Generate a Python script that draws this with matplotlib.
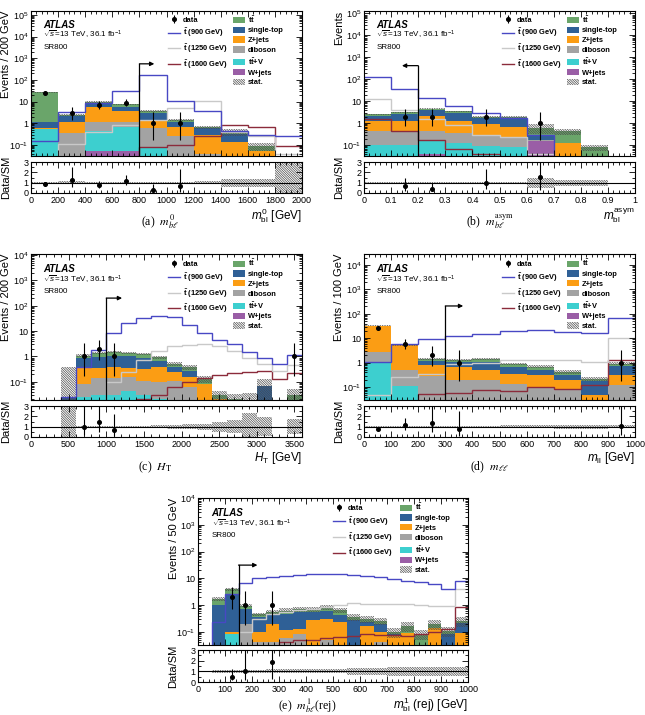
import math
import numpy as np
import matplotlib
matplotlib.use("Agg")
import matplotlib.pyplot as plt
from matplotlib.ticker import FixedLocator, FuncFormatter, AutoMinorLocator, LogLocator, NullFormatter, MultipleLocator
from matplotlib.lines import Line2D
from matplotlib.patches import Patch

plt.rcParams['font.family'] = ['Liberation Sans', 'DejaVu Sans']
plt.rcParams['mathtext.fontset'] = 'custom'
plt.rcParams['mathtext.rm'] = 'Liberation Sans'
plt.rcParams['mathtext.it'] = 'Liberation Sans:italic'
plt.rcParams['mathtext.bf'] = 'Liberation Sans:bold'
plt.rcParams['hatch.linewidth'] = 0.5

# ---------------- data ----------------
# (a) m_bl^0, bins of 200 GeV
edges_a = np.arange(0, 2001, 200)
ttbar_a = [26, 0.15, 0.5, 1.8, 0.9, 0.25, 0.06, 0.08, 0.03, 0.003]
stop_a = [0.6, 1.0, 3.0, 2.0, 1.5, 0.5, 0.3, 0.2, 0.0, 0.0]
zjets_a = [0.02, 0.85, 4.7, 2.6, 0.8, 0.4, 0.25, 0.13, 0.055, 0.0]
dibos_a = [0.02, 0.35, 0.73, 0.5, 0.5, 0.26, 0.04, 0.0, 0.0, 0.0]
ttv_a = [0.55, 0.0, 0.41, 0.65, 0.08, 0.0, 0.0, 0.0, 0.0, 0.0]
wjets_a = [0.0, 0.0, 0.05, 0.05, 0.0, 0.0, 0.0, 0.0, 0.0, 0.0]
data_a = [24, 3, 7, 9, 1, 1, 0, 0, 0, 0]
s900_a = [0.15, 3.2, 9, 30, 160, 11, 3.6, 0.45, 0.3, 0.26]
s1250_a = [0.0, 0.11, 0.41, 0.84, 1.4, 5.3, 11, 0.4, 0.25, 0.04]
s1600_a = [0.0, 0.0, 0.0, 0.0, 0.08, 0.1, 0.26, 0.85, 0.7, 0.09]
stat_a = [0.05, 0.12, 0.1, 0.06, 0.1, 0.1, 0.15, 0.4, 0.4, 5.0]

# (b) m_bl^asym, bins of 0.1
edges_b = np.round(np.arange(0, 1.01, 0.1), 2)
ttbar_b = [0.3, 0.4, 0.6, 0.6, 0.25, 0.2, 0.35, 0.3, 0.08, 0.0]
stop_b = [0.9, 1.4, 1.8, 1.6, 0.8, 1.1, 0.1, 0.0, 0.0, 0.0]
zjets_b = [0.9, 0.9, 1.75, 0.9, 0.7, 0.4, 0.0, 0.13, 0.0, 0.0]
dibos_b = [0.32, 0.3, 0.3, 0.25, 0.16, 0.16, 0.02, 0.0, 0.0, 0.0]
ttv_b = [0.1, 0.1, 0.11, 0.1, 0.07, 0.08, 0.01, 0.0, 0.0, 0.0]
wjets_b = [0.0, 0.0, 0.04, 0.02, 0.02, 0.0, 0.15, 0.0, 0.0, 0.0]
data_b = [0, 2, 2, 0, 2, 0, 1, 0, 0, 0]
s900_b = [130, 36, 14, 6, 2.8, 1.8, 0.3, 0.0, 0.0, 0.0]
s1250_b = [13, 4.2, 1.6, 0.85, 0.28, 0.24, 0.04, 0.0, 0.0, 0.0]
s1600_b = [1.5, 0.45, 0.18, 0.07, 0.04, 0.03, 0.0, 0.0, 0.0, 0.03]
stat_b = [0.08, 0.08, 0.08, 0.08, 0.1, 0.1, 0.5, 0.3, 0.3, 0.0]

# (c) H_T, bins of 200 GeV
edges_c = np.arange(0, 3601, 200)
ttbar_c = [0, 0, 0, 0.2, 0.4, 0.4, 0.35, 0.35, 0.25, 0.12, 0.1, 0.05, 0.01, 0.02, 0.015, 0, 0, 0.025]
stop_c = [0, 0, 0.012, 0.5, 0.65, 0.7, 0.7, 0.55, 0.3, 0.15, 0.12, 0, 0, 0, 0, 0.07, 0, 0.005]
zjets_c = [0, 0, 0.012, 0.3, 0.2, 0.24, 0.18, 0.22, 0.27, 0.13, 0.09, 0.08, 0.02, 0, 0, 0, 0, 0]
dibos_c = [0, 0, 0, 0.055, 0.11, 0.11, 0.11, 0.08, 0.08, 0.11, 0.06, 0, 0, 0, 0, 0, 0, 0]
ttv_c = [0, 0, 0, 0.025, 0.03, 0.03, 0.045, 0.03, 0.02, 0, 0, 0, 0, 0, 0, 0, 0, 0]
wjets_c = [0] * 18
data_c = [0, 0, 0, 1, 2, 1, 0, 0, 0, 0, 0, 0, 0, 0, 0, 0, 0, 1]
s900_c = [0, 0, 0.025, 0.38, 1.8, 8.3, 20, 33, 40, 36, 17, 8.5, 4.5, 3.0, 1.5, 0.9, 0.48, 1.1]
s1250_c = [0, 0, 0, 0, 0, 0.1, 0.25, 0.7, 1.6, 2.5, 2.9, 3.0, 2.5, 1.7, 0.9, 0.5, 0.27, 0.45]
s1600_c = [0, 0, 0, 0, 0, 0, 0, 0.02, 0.03, 0.06, 0.1, 0.14, 0.19, 0.22, 0.24, 0.26, 0.13, 0.22]
stat_c = [0, 0, 15, 0.1, 0.1, 0.1, 0.1, 0.1, 0.15, 0.2, 0.25, 0.3, 0.5, 0.6, 1.3, 0.9, 0, 0.7]

# (d) m_ll, bins of 100 GeV
edges_d = np.arange(0, 1001, 100)
ttbar_d = [0, 0, 0.25, 0.25, 0.35, 0.2, 0.16, 0.12, 0.04, 0.2]
stop_d = [0, 0, 0.4, 0.35, 0.6, 0.33, 0.22, 0.12, 0.13, 0.42]
zjets_d = [30, 4.8, 0.5, 0.5, 0.31, 0.22, 0.21, 0.115, 0.05, 0.19]
dibos_d = [1.8, 0.4, 0.28, 0.19, 0.19, 0.14, 0.1, 0.075, 0, 0.12]
ttv_d = [1.0, 0.11, 0, 0, 0, 0, 0, 0, 0, 0]
wjets_d = [0] * 10
data_d = [26, 6, 2, 1, 0, 0, 0, 0, 0, 1]
s900_d = [1.1, 6.0, 9.5, 13, 15, 19, 21, 18, 16, 65]
s1250_d = [0.05, 0.27, 0.35, 0.85, 0.95, 1.25, 1.35, 1.25, 1.05, 10]
s1600_d = [0, 0, 0.055, 0.06, 0.075, 0.07, 0.1, 0.085, 0.12, 1.25]
stat_d = [0.05, 0.08, 0.08, 0.1, 0.1, 0.12, 0.15, 0.18, 0.2, 0.15]

# (e) m_bl^1 (rej), bins of 50 GeV
edges_e = np.arange(0, 1001, 50)
ttbar_e = [0, 0.7, 1.5, 0.25, 0.1, 0.1, 0.15, 0.15, 0.18, 0.2, 0.2, 0.08, 0.07, 0.06, 0.02, 0.08, 0.08, 0.05, 0.03, 0.04]
stop_e = [0, 1.0, 2.3, 0.5, 0.25, 0.25, 0.35, 0.4, 0.25, 0.3, 0.2, 0.27, 0.07, 0.1, 0.01, 0, 0, 0, 0.08, 0.13]
zjets_e = [0, 0, 0.02, 0, 0.06, 0.15, 0.06, 0.05, 0.25, 0.26, 0.2, 0, 0.14, 0.06, 0.07, 0.09, 0, 0.14, 0, 0.09]
dibos_e = [0, 0, 0, 0.2, 0.04, 0.04, 0.06, 0.08, 0.03, 0.05, 0.03, 0, 0.03, 0.04, 0, 0, 0, 0, 0, 0]
ttv_e = [0, 0, 0.08, 0, 0, 0, 0, 0, 0, 0, 0, 0, 0, 0, 0, 0, 0, 0, 0, 0]
wjets_e = [0] * 20
data_e = [0, 0, 2, 1, 0, 1, 0, 0, 0, 0, 0, 0, 0, 0, 0, 0, 0, 0, 0, 0]
s900_e = [0, 0.24, 2.6, 6.5, 10, 10.9, 12.2, 13.3, 14, 14.5, 14.5, 13.3, 12.2, 10.9, 9.4, 8.2, 7.1, 6.1, 3.9, 7.9]
s1250_e = [0, 0, 0, 0.1, 0.3, 0.45, 0.55, 0.65, 0.72, 0.85, 1.0, 1.2, 1.05, 1.05, 1.1, 1.05, 1.0, 0.95, 0.95, 4.0]
s1600_e = [0, 0, 0, 0, 0.02, 0.03, 0.04, 0.05, 0.05, 0.06, 0.065, 0.07, 0.085, 0.075, 0.075, 0.07, 0.085, 0.1, 0.13, 0.85]
stat_e = [0, 0.15, 0.15, 0.15, 0.15, 0.2, 0.2, 0.2, 0.2, 0.2, 0.2, 0.3, 0.3, 0.3, 0.4, 0.4, 0.4, 0.4, 0.4, 0.4]

# cut arrows: (cut position, arrow height, arrow tip)
cut_a = (800, 550, 910)
cut_b = (0.2, 420, 0.14)
cut_c = (1000, 200, 1210)
cut_d = (300, 210, 366)
cut_e = (150, 31, 220)

bkg_labels = [r'$\mathbf{t\bar{t}}$', 'single-top', 'Z+jets', 'diboson', r'$\mathbf{t\bar{t}}$+V', 'W+jets']
sig_labels = [r'$\mathbf{\tilde{t}}$ (900 GeV)', r'$\mathbf{\tilde{t}}$ (1250 GeV)', r'$\mathbf{\tilde{t}}$ (1600 GeV)']

# ---------------- style ----------------
C_TT = '#6aa56a'
C_ST = '#2f6096'
C_Z = '#fb9d14'
C_DB = '#a3a3a3'
C_TTV = '#3dcfcf'
C_W = '#9a5ea6'
C_900 = '#4848c4'
C_1250 = '#c9c9c9'
C_1600 = '#8b2b3b'
C_HATCH = '#4a4a4a'
HATCH = '\\' * 14

W, H = 645, 715


def rect(l, t, r, b):
    return [l / W, 1 - b / H, (r - l) / W, (b - t) / H]


def pois_cdf(n, mu):
    s, term = 0.0, math.exp(-mu)
    for k in range(n + 1):
        if k > 0:
            term *= mu / k
        s += term
    return s


def garwood(n, a=0.158655):
    if n <= 0:
        return 0.0, 0.0
    lo_a, hi_a = 0.0, float(n)
    for _ in range(80):
        m = 0.5 * (lo_a + hi_a)
        if 1 - pois_cdf(n - 1, m) < a:
            lo_a = m
        else:
            hi_a = m
    lo = 0.5 * (lo_a + hi_a)
    lo_b, hi_b = float(n), n + 10 * math.sqrt(n) + 10
    for _ in range(80):
        m = 0.5 * (lo_b + hi_b)
        if pois_cdf(n, m) > a:
            lo_b = m
        else:
            hi_b = m
    up = 0.5 * (lo_b + hi_b)
    return lo, up


def steps(edges, vals):
    x = np.repeat(edges, 2)[1:-1]
    y = np.repeat(np.asarray(vals, float), 2)
    return x, y


def log_fmt(v, pos):
    e = int(round(math.log10(v)))
    if e == 0:
        return '1'
    if e == 1:
        return '10'
    return r'$10^{%d}$' % e


def draw(spec):
    edges = np.asarray(spec['edges'], float)
    nb = len(edges) - 1
    centers = 0.5 * (edges[1:] + edges[:-1])
    ax = fig.add_axes(rect(*spec['main']))
    axr = fig.add_axes(rect(*spec['ratio']), sharex=ax)
    ax.set_yscale('log')
    floor = 1e-6

    comps = [(spec['wjets'], C_W), (spec['ttv'], C_TTV), (spec['dibos'], C_DB),
             (spec['zjets'], C_Z), (spec['stop'], C_ST), (spec['ttbar'], C_TT)]
    cum = np.zeros(nb)
    for vals, col in comps:
        vals = np.asarray(vals, float)
        upper = cum + vals
        ax.stairs(np.maximum(upper, floor), edges, baseline=np.maximum(cum, floor),
                  fill=True, color=col, lw=0)
        cum = upper
    total = cum
    err = np.asarray(spec['stat'], float)

    # stat band
    x, yt = steps(edges, total)
    _, ye = steps(edges, err)
    m = yt > 0
    ax.fill_between(x, np.maximum(yt * (1 - ye), floor), yt * (1 + ye), where=m,
                    facecolor='none', edgecolor=C_HATCH, hatch=HATCH, lw=0)

    # signals
    for vals, col, lw in [(spec['s1600'], C_1600, 1.0), (spec['s1250'], C_1250, 1.0),
                          (spec['s900'], C_900, 1.0)]:
        vals = np.asarray(vals, float)
        ax.stairs(np.where(vals > 0, vals, 1e-4), edges, color=col, lw=lw, baseline=None)

    # data
    data = np.asarray(spec['data'], int)
    sel = data > 0
    lo = np.array([garwood(n)[0] for n in data])
    up = np.array([garwood(n)[1] for n in data])
    dcont = ax.errorbar(centers[sel], data[sel], yerr=[data[sel] - lo[sel], up[sel] - data[sel]],
                        fmt='o', color='k', ms=2.6, elinewidth=0.8, capsize=0, zorder=5)

    # cut arrow
    cx, ch, ct = spec['cut']
    ax.plot([cx, cx], [spec['ylim'][0], ch], color='k', lw=0.9, zorder=6)
    ax.annotate('', xy=(ct, ch), xytext=(cx, ch),
                arrowprops=dict(arrowstyle='-|>', color='k', lw=0.9, mutation_scale=6,
                                shrinkA=0, shrinkB=0), zorder=6)

    ax.set_xlim(edges[0], edges[-1])
    ax.set_ylim(*spec['ylim'])
    decs = [10.0 ** k for k in range(-1, 6) if spec['ylim'][0] <= 10.0 ** k <= spec['ylim'][1]]
    ax.yaxis.set_major_locator(FixedLocator(decs))
    ax.yaxis.set_major_formatter(FuncFormatter(log_fmt))
    ax.yaxis.set_minor_locator(LogLocator(base=10, subs=np.arange(2, 10), numticks=30))
    ax.yaxis.set_minor_formatter(NullFormatter())
    ax.set_ylabel(spec['ylabel'], fontsize=8, loc='top')
    ax.yaxis.set_label_coords(-0.072, 1.0)

    # ratio
    rb = np.where(total > 0, 1 + err, np.nan)
    rl = np.where(total > 0, 1 - err, np.nan)
    x, yu = steps(edges, np.minimum(rb, 3.5))
    _, yl = steps(edges, np.maximum(rl, -0.5))
    axr.fill_between(x, yl, yu, where=np.isfinite(yu), facecolor='none', edgecolor=C_HATCH,
                     hatch=HATCH, lw=0)
    axr.axhline(1, color='k', lw=0.8)
    rsel = sel & (total > 0)
    axr.errorbar(centers[rsel], data[rsel] / total[rsel],
                 yerr=[(data[rsel] - lo[rsel]) / total[rsel], (up[rsel] - data[rsel]) / total[rsel]],
                 fmt='o', color='k', ms=2.6, elinewidth=0.8, capsize=0, zorder=5)
    axr.set_ylim(0, 3)
    axr.yaxis.set_major_locator(FixedLocator([0, 1, 2, 3]))
    axr.yaxis.set_minor_locator(MultipleLocator(0.5))
    axr.set_ylabel('Data/SM', fontsize=8)
    axr.yaxis.set_label_coords(-0.072, 0.5)
    axr.yaxis.label.set_va('bottom')
    axr.xaxis.set_major_locator(MultipleLocator(spec['xmajor']))
    axr.xaxis.set_minor_locator(AutoMinorLocator(spec['xminor']))
    axr.xaxis.set_major_formatter(FuncFormatter(lambda v, p: '%g' % round(v, 6)))
    axr.set_xlabel(spec['xlabel'], fontsize=8.5, loc='right')
    axr.xaxis.set_label_coords(1.0, -0.43)

    for a in (ax, axr):
        a.tick_params(which='both', direction='in', top=True, right=True, labelsize=6.5, width=0.6)
        a.tick_params(which='major', length=4.5)
        a.tick_params(which='minor', length=2.3)
        for sp in a.spines.values():
            sp.set_linewidth(0.8)
    ax.tick_params(labelbottom=False)
    axr.tick_params(axis='x', pad=2.5)
    axr.tick_params(axis='y', pad=2)
    ax.tick_params(axis='y', pad=2)

    # text
    tx = spec['tx']
    ax.text(tx, spec['ty'][0], 'ATLAS', transform=ax.transAxes, fontsize=7,
            fontweight='bold', fontstyle='italic', va='center')
    ax.text(tx, spec['ty'][1], r'$\sqrt{s}$=13 TeV, 36.1 fb$^{-1}$', transform=ax.transAxes,
            fontsize=5.8, va='center')
    ax.text(tx, spec['ty'][2], 'SR800', transform=ax.transAxes, fontsize=5.8, va='center')

    # legends
    h1 = [dcont] + [Line2D([], [], color=c, lw=1.0) for c in (C_900, C_1250, C_1600)]
    l1 = ['data'] + sig_labels
    leg1 = ax.legend(h1, l1, loc='upper left', bbox_to_anchor=spec['leg1'], frameon=False,
                     prop=dict(size=5.4, weight='bold'), borderpad=0, borderaxespad=0,
                     labelspacing=0.4, handlelength=1.6, handletextpad=0.4, handleheight=0.9)
    ax.add_artist(leg1)
    h2 = [Patch(facecolor=c, lw=0) for c in (C_TT, C_ST, C_Z, C_DB, C_TTV, C_W)]
    h2.append(Patch(facecolor='none', edgecolor=C_HATCH, hatch=HATCH, lw=0))
    l2 = bkg_labels + ['stat.']
    ax.legend(h2, l2, loc='upper left', bbox_to_anchor=spec['leg2'], frameon=False,
              prop=dict(size=5.4, weight='bold'), borderpad=0, borderaxespad=0,
              labelspacing=0.28, handlelength=1.55, handletextpad=0.45, handleheight=0.9)

    cx_, cy_ = spec['caption_xy']
    fig.text(cx_ / W, 1 - cy_ / H, spec['caption'], fontsize=8.5, ha='center', va='center',
             family='Liberation Serif', math_fontfamily='stix')
    return ax, axr


fig = plt.figure(figsize=(6.45, 7.15), dpi=100)

specs = [
    dict(edges=edges_a, ttbar=ttbar_a, stop=stop_a, zjets=zjets_a, dibos=dibos_a, ttv=ttv_a,
         wjets=wjets_a, data=data_a, s900=s900_a, s1250=s1250_a, s1600=s1600_a, stat=stat_a,
         cut=cut_a, ylim=(0.031, 1.5e5), ylabel='Events / 200 GeV', xlabel=r'$m^{0}_{\mathrm{bl}}$ [GeV]',
         xmajor=200, xminor=5, main=(31, 11, 302, 156), ratio=(31, 162, 302, 193),
         tx=0.045, ty=(0.905, 0.835, 0.75), leg1=(0.506, 0.965), leg2=(0.745, 0.98),
         caption=r'(a)  $m^{0}_{b\ell}$', caption_xy=(160, 222)),
    dict(edges=edges_b, ttbar=ttbar_b, stop=stop_b, zjets=zjets_b, dibos=dibos_b, ttv=ttv_b,
         wjets=wjets_b, data=data_b, s900=s900_b, s1250=s1250_b, s1600=s1600_b, stat=stat_b,
         cut=cut_b, ylim=(0.032, 1.3e5), ylabel='Events', xlabel=r'$m^{\mathrm{asym}}_{\mathrm{bl}}$',
         xmajor=0.1, xminor=5, main=(364, 11, 635, 156), ratio=(364, 162, 635, 193),
         tx=0.045, ty=(0.905, 0.835, 0.75), leg1=(0.509, 0.965), leg2=(0.749, 0.98),
         caption=r'(b)  $m^{\mathrm{asym}}_{b\ell}$', caption_xy=(490, 222)),
    dict(edges=edges_c, ttbar=ttbar_c, stop=stop_c, zjets=zjets_c, dibos=dibos_c, ttv=ttv_c,
         wjets=wjets_c, data=data_c, s900=s900_c, s1250=s1250_c, s1600=s1600_c, stat=stat_c,
         cut=cut_c, ylim=(0.019, 1.1e4), ylabel='Events / 200 GeV', xlabel=r'$H_{\mathrm{T}}$ [GeV]',
         xmajor=500, xminor=5, main=(31, 254, 302, 400), ratio=(31, 406, 302, 437),
         tx=0.045, ty=(0.9, 0.82, 0.746), leg1=(0.506, 0.955), leg2=(0.745, 0.975),
         caption=r'(c)  $H_{\mathrm{T}}$', caption_xy=(155, 467)),
    dict(edges=edges_d, ttbar=ttbar_d, stop=stop_d, zjets=zjets_d, dibos=dibos_d, ttv=ttv_d,
         wjets=wjets_d, data=data_d, s900=s900_d, s1250=s1250_d, s1600=s1600_d, stat=stat_d,
         cut=cut_d, ylim=(0.03, 2.8e4), ylabel='Events / 100 GeV', xlabel=r'$m_{\mathrm{ll}}$ [GeV]',
         xmajor=100, xminor=5, main=(364, 254, 635, 400), ratio=(364, 406, 635, 437),
         tx=0.045, ty=(0.9, 0.82, 0.746), leg1=(0.509, 0.955), leg2=(0.749, 0.975),
         caption=r'(d)  $m_{\ell\ell}$', caption_xy=(490, 467)),
    dict(edges=edges_e, ttbar=ttbar_e, stop=stop_e, zjets=zjets_e, dibos=dibos_e, ttv=ttv_e,
         wjets=wjets_e, data=data_e, s900=s900_e, s1250=s1250_e, s1600=s1600_e, stat=stat_e,
         cut=cut_e, ylim=(0.032, 1.0e4), ylabel='Events / 50 GeV', xlabel=r'$m^{1}_{\mathrm{bl}}$ (rej) [GeV]',
         xmajor=100, xminor=5, main=(198, 498, 468, 645), ratio=(198, 650, 468, 682),
         tx=0.05, ty=(0.9, 0.82, 0.746), leg1=(0.5, 0.955), leg2=(0.748, 0.975),
         caption=r'(e)  $m^{1}_{b\ell}$(rej)', caption_xy=(307, 706)),
]

for sp in specs:
    draw(sp)

fig.savefig('out.png', dpi=100)
